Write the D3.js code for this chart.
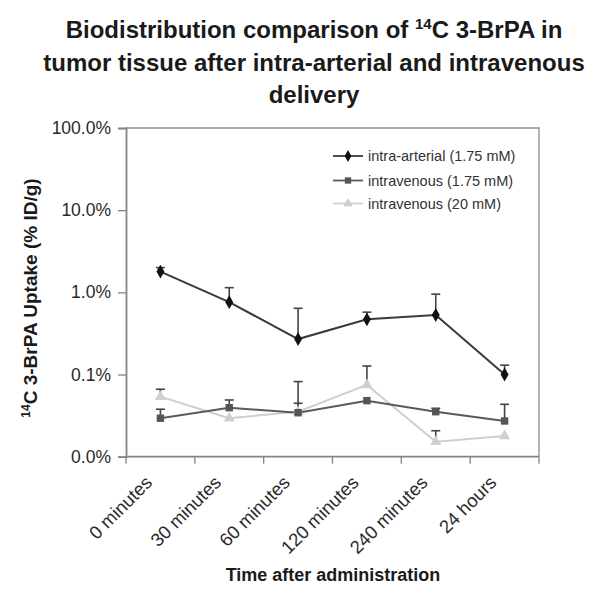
<!DOCTYPE html>
<html>
<head>
<meta charset="utf-8">
<script src="https://cdn.jsdelivr.net/npm/d3@7"></script>
<style>
html,body{margin:0;padding:0;background:#fff;}
svg{display:block;font-family:"Liberation Sans",Arial,sans-serif;}
</style>
</head>
<body>
<svg id="chart" width="601" height="595"></svg>
<script>
// ---- data (values in % ID/g) ----
const categories = ["0 minutes","30 minutes","60 minutes","120 minutes","240 minutes","24 hours"];
const seriesNames = ["intra-arterial (1.75 mM)","intravenous (1.75 mM)","intravenous (20 mM)"];
const intraArterial    = [1.79, 0.76, 0.27, 0.47, 0.53, 0.10];
const intraArterialTop = [2.0, 1.14, 0.64, 0.574, 0.95, 0.13];
const ivLow            = [0.0294, 0.0395, 0.0343, 0.0481, 0.0353, 0.0272];
const ivLowTop         = [0.0378, 0.049, 0.0447, null, 0.0388, 0.0434];
const ivHigh           = [0.0538, 0.0294, 0.0353, 0.0747, 0.0152, 0.0179];
const ivHighTop        = [0.0662, null, 0.082, 0.127, 0.0207, null];
const yTickValues = [0.01, 0.1, 1, 10, 100];
const yTickLabels = ["0.0%", "0.1%", "1.0%", "10.0%", "100.0%"];

const svg = d3.select("#chart");
const L = 126, R = 539, T = 128, B = 456.7;

const x = d3.scaleBand().domain(categories).range([L, R]);
const y = d3.scaleLog().domain([0.01, 100]).range([B, T]);

const axisColor = "#858585";

// plot border (top and right)
svg.append("path")
  .attr("d", `M${L},${T}H${R}V${B}`)
  .attr("fill", "none").attr("stroke", "#8a8a8a").attr("stroke-width", 1.3);

// y axis
const yAxis = d3.axisLeft(y).tickValues(yTickValues)
  .tickFormat((d, i) => yTickLabels[i]).tickSize(8).tickPadding(7);
const gy = svg.append("g").attr("transform", `translate(${L},0)`).call(yAxis);
gy.select(".domain").attr("stroke", axisColor).attr("stroke-width", 1.8);
gy.selectAll(".tick line").attr("stroke", axisColor).attr("stroke-width", 1.3);
gy.selectAll(".tick text").attr("font-size", 17.5).attr("fill", "#2a2a2a")
  .attr("font-family", "Liberation Sans, Arial, sans-serif");

// x axis (ticks at category boundaries)
const edges = categories.map(c => x(c)).concat([R]);
const gx = svg.append("g");
gx.append("line").attr("x1", L).attr("x2", R).attr("y1", B).attr("y2", B)
  .attr("stroke", axisColor).attr("stroke-width", 1.8);
gx.selectAll("line.tk").data(edges).join("line").attr("class", "tk")
  .attr("x1", d => d).attr("x2", d => d).attr("y1", B).attr("y2", B + 7)
  .attr("stroke", axisColor).attr("stroke-width", 1.3);
gx.selectAll("text").data(categories).join("text")
  .attr("transform", d => `translate(${x(d) + x.bandwidth() / 2 - 7},${B + 27}) rotate(-45)`)
  .attr("text-anchor", "end")
  .attr("font-size", 18.5).attr("fill", "#2a2a2a")
  .text(d => d);

// series
const series = [
  {name: seriesNames[0], vals: intraArterial, tops: intraArterialTop, line: "#3a3a3a", fill: "#111", shape: d3.symbolDiamond, size: 55},
  {name: seriesNames[1], vals: ivLow, tops: ivLowTop, line: "#5a5a5a", fill: "#555", shape: d3.symbolSquare, size: 55},
  {name: seriesNames[2], vals: ivHigh, tops: ivHighTop, line: "#cfcfcf", fill: "#cfcfcf", shape: d3.symbolTriangle, size: 55}
];
const cx = c => x(c) + x.bandwidth() / 2;

const lineGen = d3.line().x((d, i) => cx(categories[i])).y(d => y(d));

series.slice().reverse().forEach(s => {
  svg.append("path").datum(s.vals).attr("d", lineGen)
    .attr("fill", "none").attr("stroke", s.line).attr("stroke-width", 2);
});
// error bars
series.forEach(s => {
  const g = svg.append("g");
  s.vals.forEach((v, i) => {
    const t = s.tops[i];
    if (t == null) return;
    const xx = cx(categories[i]);
    g.append("line").attr("x1", xx).attr("x2", xx).attr("y1", y(v)).attr("y2", y(t))
      .attr("stroke", "#444").attr("stroke-width", 1.6);
    g.append("line").attr("x1", xx - 4.5).attr("x2", xx + 4.5).attr("y1", y(t)).attr("y2", y(t))
      .attr("stroke", "#444").attr("stroke-width", 1.6);
  });
});
// markers
series.slice().reverse().forEach(s => {
  svg.append("g").selectAll("path").data(s.vals).join("path")
    .attr("transform", (d, i) => `translate(${cx(categories[i])},${y(d)})`)
    .attr("d", d3.symbol().type(s.shape).size(s.size))
    .attr("fill", s.fill);
});

// legend
const lg = svg.append("g");
const legY = [156, 180.5, 203.5];
series.forEach((s, i) => {
  lg.append("line").attr("x1", 333).attr("x2", 363).attr("y1", legY[i]).attr("y2", legY[i])
    .attr("stroke", s.line).attr("stroke-width", 1.8);
  lg.append("path").attr("transform", `translate(348,${legY[i]})`)
    .attr("d", d3.symbol().type(s.shape).size(40)).attr("fill", s.fill);
  lg.append("text").attr("x", 368).attr("y", legY[i] + 5)
    .attr("font-size", 14.5).attr("fill", "#333").text(s.name);
});

// title
const title = svg.append("g").attr("font-weight", "bold").attr("font-size", 24).attr("fill", "#1a1a1a").attr("text-anchor", "middle");
const t1 = title.append("text").attr("x", 314).attr("y", 38);
t1.append("tspan").text("Biodistribution comparison of ");
t1.append("tspan").attr("font-size", 15).attr("dy", -9).text("14");
t1.append("tspan").attr("dy", 9).text("C 3-BrPA in");
title.append("text").attr("x", 314).attr("y", 71).text("tumor tissue after intra-arterial and intravenous");
title.append("text").attr("x", 314).attr("y", 103).text("delivery");

// y axis title
const yt = svg.append("text").attr("transform", `translate(37,298) rotate(-90)`)
  .attr("text-anchor", "middle").attr("font-weight", "bold").attr("font-size", 19).attr("fill", "#1a1a1a");
yt.append("tspan").attr("font-size", 12).attr("dy", -7).text("14");
yt.append("tspan").attr("dy", 7).text("C 3-BrPA Uptake (% ID/g)");

// x axis title
svg.append("text").attr("x", 333).attr("y", 581).attr("text-anchor", "middle")
  .attr("font-weight", "bold").attr("font-size", 18).attr("fill", "#1a1a1a")
  .text("Time after administration");
</script>
</body>
</html>
